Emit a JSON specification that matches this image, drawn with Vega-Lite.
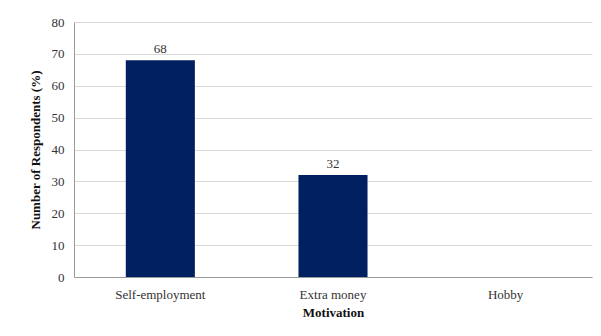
{
  "$schema": "https://vega.github.io/schema/vega-lite/v6.json",
  "autosize": {"type": "none"},
  "width": 518,
  "height": 255,
  "padding": {"left": 74, "top": 22, "right": 9, "bottom": 59},
  "background": "white",
  "data": {"values": [
    {"Motivation": "Self-employment", "Value": 68},
    {"Motivation": "Extra money", "Value": 32},
    {"Motivation": "Hobby", "Value": null}
  ]},
  "encoding": {
    "x": {"field": "Motivation", "type": "nominal", "sort": null,
      "scale": {"domain": ["Self-employment", "Extra money", "Hobby"], "paddingInner": 0.6, "paddingOuter": 0.3},
      "axis": {"title": "Motivation", "labelAngle": 0, "ticks": false, "labelPadding": 11,
        "titlePadding": 5, "domainColor": "#999999", "labelFontSize": 13, "titleFontSize": 13}},
    "y": {"field": "Value", "type": "quantitative",
      "scale": {"domain": [0, 80]},
      "axis": {"title": "Number  of Respondents  (%)", "values": [0,10,20,30,40,50,60,70,80],
        "ticks": false, "labelPadding": 10, "titlePadding": 9, "domainColor": "#999999",
        "gridColor": "#d9d9d9", "labelFontSize": 13, "titleFontSize": 13}}
  },
  "layer": [
    {"mark": {"type": "bar", "color": "#002060"}},
    {"mark": {"type": "text", "dy": -11, "font": "Liberation Serif", "fontSize": 13, "color": "#333333"},
     "encoding": {"text": {"field": "Value", "type": "quantitative"}}}
  ],
  "config": {
    "view": {"stroke": null},
    "axis": {"labelFont": "Liberation Serif", "titleFont": "Liberation Serif", "labelColor": "#333333",
      "titleColor": "#111111", "titleFontWeight": "bold"}
  }
}
